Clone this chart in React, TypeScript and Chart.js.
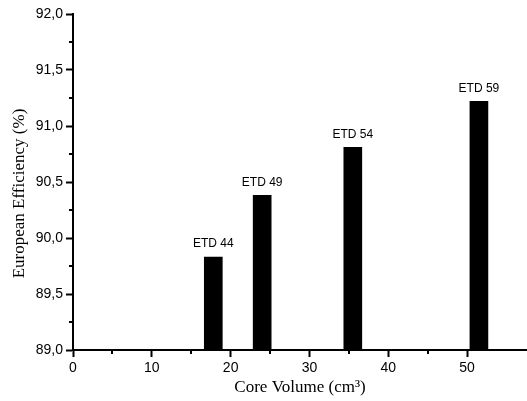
import React, { useEffect, useRef } from "react";
import { Chart, registerables } from "chart.js";

Chart.register(...registerables);

const coreVolumes = [17.8, 24.0, 35.5, 51.5];
const efficiencies = [89.83, 90.38, 90.81, 91.22];
const barLabels = ["ETD 44", "ETD 49", "ETD 54", "ETD 59"];
const xTitle = "Core Volume (cm³)";
const yTitle = "European Efficiency (%)";

const isMajorX = (v: number) => Math.abs(v % 10) < 1e-6;
const isMajorY = (v: number) => Math.abs((v * 2) % 1) < 1e-6;

const labelPlugin = {
  id: "barLabels",
  afterDatasetsDraw(chart: any) {
    const ctx = chart.ctx;
    const meta = chart.getDatasetMeta(0);
    ctx.save();
    ctx.font = "12px 'Liberation Sans', Arial, sans-serif";
    ctx.fillStyle = "#000";
    ctx.textAlign = "center";
    ctx.textBaseline = "bottom";
    meta.data.forEach((el: any, i: number) => {
      ctx.fillText(barLabels[i], el.x, el.y - 7);
    });
    ctx.restore();
  },
};

const yTitlePlugin = {
  id: "yTitle",
  afterDraw(chart: any) {
    const ctx = chart.ctx;
    ctx.save();
    ctx.font = "17px 'Liberation Serif', 'Times New Roman', serif";
    ctx.fillStyle = "#000";
    ctx.textAlign = "center";
    ctx.textBaseline = "middle";
    ctx.translate(20, (chart.height - 14) / 2);
    ctx.rotate(-Math.PI / 2);
    ctx.fillText(yTitle, 0, 0);
    ctx.restore();
  },
};

const minorTickPlugin = {
  id: "minorTicks",
  afterDraw(chart: any) {
    const ctx = chart.ctx;
    const xs = chart.scales.x;
    const ys = chart.scales.y;
    ctx.save();
    ctx.strokeStyle = "#000";
    ctx.lineWidth = 2;
    xs.ticks.forEach((t: any) => {
      if (isMajorX(t.value)) return;
      const px = Math.round(xs.getPixelForValue(t.value));
      ctx.beginPath();
      ctx.moveTo(px, xs.top);
      ctx.lineTo(px, xs.top + 4);
      ctx.stroke();
    });
    ys.ticks.forEach((t: any) => {
      if (isMajorY(t.value)) return;
      const py = Math.round(ys.getPixelForValue(t.value));
      ctx.beginPath();
      ctx.moveTo(ys.right, py);
      ctx.lineTo(ys.right - 4, py);
      ctx.stroke();
    });
    ctx.restore();
  },
};

export default function App() {
  const ref = useRef<HTMLCanvasElement>(null);
  useEffect(() => {
    document.body.style.margin = "0";
    const chart = new Chart(ref.current!, {
      type: "bar",
      data: {
        datasets: [
          {
            data: coreVolumes.map((x, i) => ({ x, y: efficiencies[i] })),
            backgroundColor: "#000",
            borderWidth: 0,
            barThickness: 18,
          },
        ],
      },
      options: {
        animation: false,
        responsive: false,
        layout: { padding: { top: 14, right: 0, left: 0, bottom: 0 } },
        plugins: { legend: { display: false }, tooltip: { enabled: false } },
        scales: {
          x: {
            type: "linear",
            min: 0,
            max: 57.6,
            offset: false,
            afterBuildTicks: (s: any) => {
              s.ticks = s.ticks.filter((t: any) => Math.abs(t.value % 5) < 1e-6);
            },
            afterFit: (s: any) => {
              s.height = 51;
            },
            ticks: {
              stepSize: 5,
              autoSkip: false,
              maxRotation: 0,
              color: "#000",
              padding: 3,
              font: { family: "'Liberation Sans', Arial, sans-serif", size: 14 },
              callback: (v: any) => (isMajorX(v) ? String(v) : ""),
            },
            grid: {
              offset: false,
              drawOnChartArea: false,
              drawTicks: true,
              tickLength: 7,
              tickColor: (c: any) => (c.tick && isMajorX(c.tick.value) ? "#000" : "rgba(0,0,0,0)"),
              tickWidth: 2,
            },
            border: { display: true, color: "#000", width: 2 },
            title: {
              display: true,
              text: xTitle,
              color: "#000",
              padding: { top: 0, bottom: 3 },
              font: { family: "'Liberation Serif', 'Times New Roman', serif", size: 17 },
            },
          },
          y: {
            min: 89,
            max: 92,
            afterFit: (s: any) => {
              s.width = 73;
            },
            ticks: {
              stepSize: 0.25,
              autoSkip: false,
              color: "#000",
              padding: 3,
              font: { family: "'Liberation Sans', Arial, sans-serif", size: 14 },
              callback: (v: any) => (isMajorY(v) ? Number(v).toFixed(1).replace(".", ",") : ""),
            },
            grid: {
              drawOnChartArea: false,
              drawTicks: true,
              tickLength: 7,
              tickColor: (c: any) => (c.tick && isMajorY(c.tick.value) ? "#000" : "rgba(0,0,0,0)"),
              tickWidth: 2,
            },
            border: { display: true, color: "#000", width: 2 },
            title: { display: false, text: yTitle },
          },
        },
      },
      plugins: [labelPlugin, minorTickPlugin, yTitlePlugin],
    });
    return () => chart.destroy();
  }, []);
  return (
    <div style={{ width: 527, height: 401, background: "#fff" }}>
      <canvas ref={ref} width={527} height={401} />
    </div>
  );
}
